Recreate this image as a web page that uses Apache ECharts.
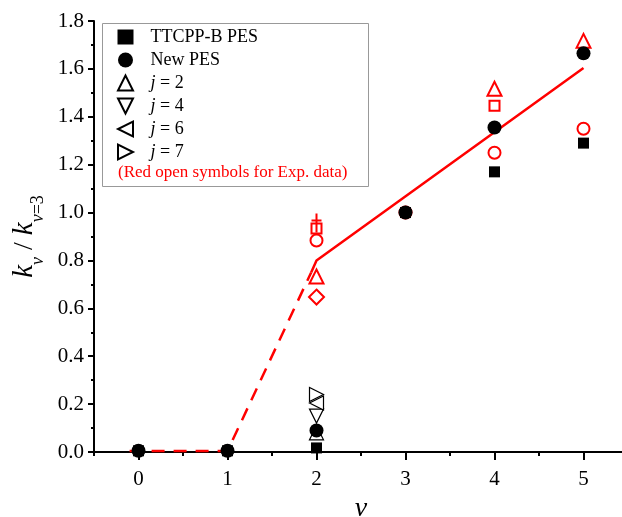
<!DOCTYPE html>
<html>
<head>
<meta charset="utf-8">
<script src="https://cdn.jsdelivr.net/npm/echarts@6/dist/echarts.min.js"></script>
<style>
  html, body { margin: 0; padding: 0; background: #fff; }
  #chart { width: 622px; height: 517px; }
</style>
</head>
<body>
<div id="chart"></div>
<script>
// Vibrational levels and rate ratios k_v / k_{v=3}
const vLevels = [0, 1, 2, 3, 4, 5];
const ttcppB = [0.005, 0.005, 0.017, 1.0, 1.17, 1.29];
const newPes = [0.005, 0.005, 0.09, 1.0, 1.355, 1.665];

// rotational-state results at v = 2
const j2 = [[2, 0.08]];
const j4 = [[2, 0.15]];
const j6 = [[2, 0.205]];
const j7 = [[2, 0.24]];

// experimental data (red open symbols)
const expTriangle = [[2, 0.733], [4, 1.517], [5, 1.717]];
const expSquare = [[2, 0.933], [4, 1.446]];
const expCircle = [[2, 0.883], [3, 1.0], [4, 1.25], [5, 1.35]];
const expDiamond = [[2, 0.647]];
const expBar = [[2, 0.956]];

// trend curve: dashed below threshold, solid above
const trendDashed = [[-0.1, 0.004], [1.0, 0.004], [1.94, 0.75]];
const trendSolid = [[1.94, 0.75], [2.0, 0.8], [5.0, 1.604]];

const xTicks = [0, 1, 2, 3, 4, 5];
const xMinorTicks = [-0.5, 0.5, 1.5, 2.5, 3.5, 4.5, 5.5];

const FONT = 'Liberation Serif';
const RED = '#ff0000';

const UP = 'path://M0,10 L5,0 L10,10 Z';
const DOWN = 'path://M0,0 L10,0 L5,10 Z';
const LEFT = 'path://M10,0 L10,10 L0,5 Z';
const RIGHT = 'path://M0,0 L0,10 L10,5 Z';
const BAR = 'path://M5,0 L5,19 M0,7 L10,7';

const pair = (xs, ys) => xs.map((x, i) => [x, ys[i]]);

function openBlack(name, data, symbol, size) {
  return {
    name, type: 'scatter', data, symbol, symbolSize: size, symbolKeepAspect: true,
    itemStyle: { color: '#fff', borderColor: '#000', borderWidth: 1.2, opacity: 1 },
    z: 4
  };
}
function openRed(data, symbol, size) {
  return {
    type: 'scatter', data, symbol, symbolSize: size, symbolKeepAspect: true,
    itemStyle: { color: 'rgba(255,255,255,0)', borderColor: RED, borderWidth: 2, opacity: 1 },
    z: 3, silent: true
  };
}

const chart = echarts.init(document.getElementById('chart'));
chart.setOption({
  animation: false,
  backgroundColor: '#fff',
  grid: { left: 94, right: -6, top: 21, bottom: 65, containLabel: false, outerBoundsMode: 'none' },
  xAxis: [{
    type: 'value', min: -0.5, max: 5.5,
    name: 'ν', nameLocation: 'middle', nameGap: 42,
    nameTextStyle: { fontFamily: FONT, fontStyle: 'italic', fontSize: 28, color: '#000' },
    axisLine: { show: true, onZero: false, lineStyle: { color: '#000', width: 2 } },
    axisTick: { show: true, customValues: xTicks, length: 8, lineStyle: { color: '#000', width: 2 } },
    axisLabel: { customValues: xTicks, fontFamily: FONT, fontSize: 21, color: '#000', margin: 17 },
    splitLine: { show: false }
  }, {
    type: 'value', min: -0.5, max: 5.5, position: 'bottom',
    axisLine: { show: false },
    axisTick: { show: true, customValues: xMinorTicks, length: 4, lineStyle: { color: '#000', width: 2 } },
    axisLabel: { show: false },
    splitLine: { show: false }
  }],
  yAxis: {
    type: 'value', min: 0, max: 1.8, interval: 0.2,
    name: '{i|k}{s|ν}{n| / }{i|k}{s|ν}{e|=3}',
    nameLocation: 'middle', nameGap: 52, nameRotate: 90,
    nameTextStyle: {
      fontFamily: FONT, fontSize: 28, color: '#000',
      rich: {
        i: { fontFamily: FONT, fontStyle: 'italic', fontSize: 29, color: '#000', lineHeight: 32 },
        n: { fontFamily: FONT, fontSize: 28, color: '#000', lineHeight: 32 },
        s: { fontFamily: FONT, fontStyle: 'italic', fontSize: 18, color: '#000', verticalAlign: 'bottom', lineHeight: 32, padding: [0, 0, -6, 0] },
        e: { fontFamily: FONT, fontSize: 18, color: '#000', verticalAlign: 'bottom', lineHeight: 32, padding: [0, 0, -6, 0] }
      }
    },
    axisLine: { show: true, onZero: false, lineStyle: { color: '#000', width: 2 } },
    axisTick: { show: true, length: 6, lineStyle: { color: '#000', width: 2 } },
    minorTick: { show: true, splitNumber: 2, length: 3, lineStyle: { color: '#000', width: 2 } },
    axisLabel: {
      fontFamily: FONT, fontSize: 21, color: '#000', margin: 10,
      formatter: v => v.toFixed(1)
    },
    splitLine: { show: false }
  },
  legend: {
    orient: 'vertical', left: 112, top: 23,
    itemWidth: 16, itemHeight: 15, itemGap: 5,
    textStyle: {
      fontFamily: FONT, fontSize: 18, color: '#000', padding: [0, 0, 0, 12],
      rich: { j: { fontFamily: FONT, fontStyle: 'italic', fontSize: 18, color: '#000' } }
    },
    data: ['TTCPP-B PES', 'New PES', 'j = 2', 'j = 4', 'j = 6', 'j = 7'],
    formatter: n => n.startsWith('j') ? '{j|j}' + n.slice(1) : n
  },
  graphic: [{
    type: 'rect', left: 102, top: 23, z: 1,
    shape: { width: 266, height: 163 },
    style: { fill: '#fff', stroke: '#999', lineWidth: 1 }
  }, {
    type: 'text', left: 118, top: 164, z: 10,
    style: { text: '(Red open symbols for Exp. data)', font: '17px "Liberation Serif"', fill: RED }
  }],
  series: [
    { type: 'line', data: trendDashed, symbol: 'none', silent: true, z: 2,
      lineStyle: { color: RED, width: 2.5, type: [13, 9] } },
    { type: 'line', data: trendSolid, symbol: 'none', silent: true, z: 2,
      lineStyle: { color: RED, width: 2.5 } },
    openRed(expTriangle, UP, 14),
    openRed(expSquare, 'rect', 10),
    openRed(expCircle, 'circle', 12),
    openRed(expDiamond, 'diamond', 15),
    openRed(expBar, BAR, 19),
    openBlack('j = 2', j2, UP, 14),
    openBlack('j = 4', j4, DOWN, 14),
    openBlack('j = 6', j6, LEFT, 14),
    openBlack('j = 7', j7, RIGHT, 14),
    { name: 'TTCPP-B PES', type: 'scatter', data: pair(vLevels, ttcppB), symbol: 'rect', symbolSize: 11,
      itemStyle: { color: '#000', opacity: 1 }, z: 5 },
    { name: 'New PES', type: 'scatter', data: pair(vLevels, newPes), symbol: 'circle', symbolSize: 14,
      itemStyle: { color: '#000', opacity: 1 }, z: 6 }
  ]
});
</script>
</body>
</html>
